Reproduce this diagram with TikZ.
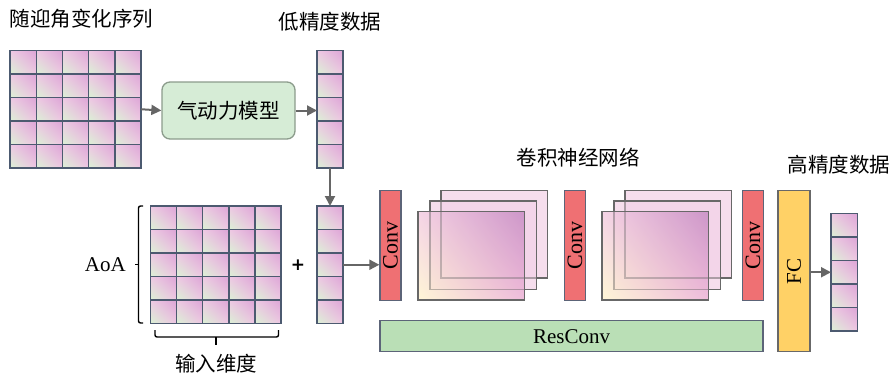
\documentclass[tikz,border=0pt]{standalone}
\usepackage{fontspec}
\setmainfont{Liberation Serif}
\newfontfamily\cjk{Noto Sans CJK SC}
\newfontfamily\plusfont{DejaVu Sans}
\usetikzlibrary{arrows.meta,shadings}
\definecolor{cUL}{HTML}{EFC8E4}
\definecolor{cUR}{HTML}{DCA4D6}
\definecolor{cLL}{HTML}{DAF2D4}
\definecolor{cLR}{HTML}{F0C6E4}
\definecolor{cellborder}{HTML}{4C5A70}
\definecolor{convred}{HTML}{EF7073}
\definecolor{convborder}{HTML}{5C6478}
\definecolor{fcyellow}{HTML}{FFD166}
\definecolor{resgreen}{HTML}{BADFB6}
\definecolor{modelgreen}{HTML}{D6ECD6}
\definecolor{modelborder}{HTML}{8C9C8C}
\definecolor{arrowgray}{HTML}{666666}
\definecolor{fmback}{HTML}{F3D3E8}
\definecolor{fmborder}{HTML}{686868}
\definecolor{fmLL}{HTML}{FFF5D0}
\definecolor{fmUR}{HTML}{C78CC4}
\definecolor{fmUL}{HTML}{F4CDE2}
\definecolor{fmLR}{HTML}{EDB2D6}
\tikzset{
  cellline/.style={draw=cellborder, line width=1.4pt},
  holder/.style={rectangle, inner sep=0pt, outer sep=0pt},
  arr/.style={draw=arrowgray, line width=2pt, -{Triangle[length=10pt,width=10pt]}},
  convbox/.style={rectangle, draw=convborder, fill=convred, line width=1.3pt, minimum width=21pt, minimum height=110pt, inner sep=0pt},
  fcbox/.style={rectangle, draw=fmborder, fill=fcyellow, line width=1.3pt, minimum width=32pt, minimum height=161pt, inner sep=0pt},
  resbox/.style={rectangle, draw=convborder, fill=resgreen, line width=1.3pt, minimum width=383pt, minimum height=31pt, inner sep=0pt},
  modelbox/.style={rectangle, rounded corners=8pt, draw=modelborder, fill=modelgreen, line width=1.3pt, minimum width=133pt, minimum height=57pt, inner sep=0pt},
  cjktext/.style={font=\cjk\fontsize{20.5}{24}\selectfont, inner sep=0pt},
  lattext/.style={font=\fontsize{21}{24}\selectfont, inner sep=0pt},
  convtext/.style={font=\fontsize{22}{24}\selectfont, inner sep=0pt, rotate=90},
  fmb/.style={draw=fmborder, line width=1.4pt, fill=fmback, fill opacity=0.75},
  fmf/.style={draw=fmborder, line width=1.4pt},
  bracket/.style={draw=black, line width=1.4pt, rounded corners=2pt},
}
\newcommand\mygrid[6]{%
  \foreach \i in {1,...,#3}{\foreach \j in {1,...,#4}{%
    \shade[upper left=cUL, upper right=cUR, lower left=cLL, lower right=cLR]
      ({#1+(\i-1)*#5},{#2+(\j-1)*#6}) rectangle ++(#5,#6);
  }}%
  \foreach \i in {1,...,#3}{\foreach \j in {1,...,#4}{%
    \draw[cellline] ({#1+(\i-1)*#5},{#2+(\j-1)*#6}) rectangle ++(#5,#6);
  }}%
}
\newcommand\fmstack[1]{%
  \fill[white] (#1+23,190.7) rectangle ++(106.7,87.3);
  \draw[fmb] (#1+23,190.7) rectangle ++(106.7,87.3);
  \draw[fmb] (#1+12,201) rectangle ++(106.7,88.3);
  \shade[upper left=fmUL, upper right=fmUR, lower left=fmLL, lower right=fmLR, fill opacity=0.85]
    (#1,211.7) rectangle ++(106.5,88.3);
  \draw[fmf] (#1,211.7) rectangle ++(106.5,88.3);
  \draw[fmf, draw opacity=0.35] (#1+12,201) rectangle ++(106.7,88.3);
  \draw[fmf, draw opacity=0.35] (#1+23,190.7) rectangle ++(106.7,87.3);
}
\begin{document}
\begin{tikzpicture}[x=1pt,y=-1pt]
\useasboundingbox (0,0) rectangle (895,375);
\fill[white] (0,0) rectangle (895,375);

% titles
\node[cjktext] (t1) at (81.5,19) {随迎角变化序列};
\node[cjktext] (t2) at (330,22) {低精度数据};
\node[cjktext] (t3) at (578,158) {卷积神经网络};
\node[cjktext] (t4) at (839,165) {高精度数据};

% grids
\mygrid{10}{50.5}{5}{5}{26.2}{23.5}
\node[holder, minimum width=131pt, minimum height=117.5pt] (g1) at (75.5,109.25) {};
\mygrid{317}{50.5}{1}{5}{26}{23.5}
\node[holder, minimum width=26pt, minimum height=117.5pt] (c1) at (330,109.25) {};
\mygrid{150.5}{206}{5}{5}{26.1}{23.5}
\node[holder, minimum width=130.5pt, minimum height=117.5pt] (g2) at (215.75,264.75) {};
\mygrid{317}{206}{1}{5}{26}{23.5}
\node[holder, minimum width=26pt, minimum height=117.5pt] (c2) at (330,264.75) {};
\mygrid{831}{213.5}{1}{5}{26.5}{23.5}
\node[holder, minimum width=26.5pt, minimum height=117.5pt] (out) at (844.25,272.25) {};

% model
\node[modelbox] (model) at (228.5,110.5) {};
\node[cjktext] (modeltxt) at (model.center) {气动力模型};

% network
\node[convbox] (conv1) at (390.5,245.5) {};
\node[convtext] (conv1t) at (conv1.center) {Conv};
\fmstack{418}
\node[convbox] (conv2) at (575,245.5) {};
\node[convtext] (conv2t) at (conv2.center) {Conv};
\fmstack{602}
\node[convbox] (conv3) at (753,245.5) {};
\node[convtext] (conv3t) at (conv3.center) {Conv};
\node[fcbox] (fc) at (794,271.2) {};
\node[lattext, rotate=90] (fct) at (fc.center) {FC};
\node[resbox] (res) at (571.6,336.2) {};
\node[lattext] (rest) at (res.center) {ResConv};

% arrows
\draw[arr] (g1.east) -- (model.west);
\draw[arr] (model.east) -- (model.east -| c1.west);
\draw[arr] (c1.south) -- (c2.north);
\draw[arr] (c2.east) -- (c2.east -| conv1.west);
\draw[arr] (fc.east |- out.west) -- (out.west);

% braces
\draw[bracket] (143,206) -- (138.5,206) -- (138.5,323) -- (143,323);
\coordinate (btip) at (134.5,264.5);
\draw[draw=black, line width=1.4pt] (138.5,264.5) -- (btip);
\node[lattext, anchor=east] (aoa) at (126,265) {AoA};
\draw[bracket] (155,330) -- (155,337) -- (278.5,337) -- (278.5,330);
\coordinate (btip2) at (216,344.5);
\draw[draw=black, line width=1.4pt] (216,337) -- (btip2);
\node[cjktext] (indim) at (216,364) {输入维度};
\node[font=\plusfont\bfseries\fontsize{17}{18}\selectfont, inner sep=0pt] (plus) at (298,265.5) {+};
\end{tikzpicture}
\end{document}
